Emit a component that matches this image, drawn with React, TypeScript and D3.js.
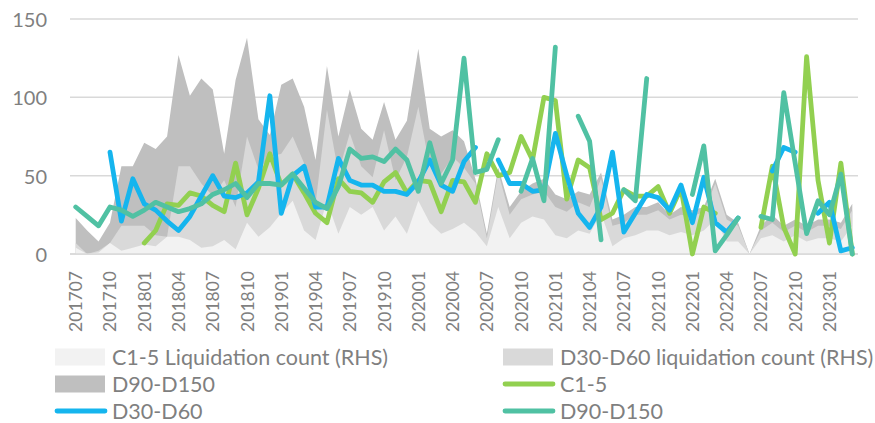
import React from "react";
import * as d3 from "d3";

const months: string[] = [
  "201707","201708","201709","201710","201711","201712",
  "201801","201802","201803","201804","201805","201806","201807","201808","201809","201810","201811","201812",
  "201901","201902","201903","201904","201905","201906","201907","201908","201909","201910","201911","201912",
  "202001","202002","202003","202004","202005","202006","202007","202008","202009","202010","202011","202012",
  "202101","202102","202103","202104","202105","202106","202107","202108","202109","202110","202111","202112",
  "202201","202202","202203","202204","202205","202206","202207","202208","202209","202210","202211","202212",
  "202301","202302","202303",
];

const tickLabels: string[] = [
  "201707","201710","201801","201804","201807","201810","201901","201904","201907","201910",
  "202001","202004","202007","202010","202101","202104","202107","202110","202201","202204",
  "202207","202210","202301",
];

const yTicks: number[] = [0, 50, 100, 150];

// Area series (liquidation counts), read on the visible scale
const areaC15: number[] = [
  4,0,1,7,2,4, 6,5,11,11,9,4,5,9,3,20,11,17,
  26,34,15,9,34,13,30,25,30,15,24,13,
  34,20,13,16,20,14,5,30,10,20,24,22,
  12,10,15,13,26,5,10,12,15,15,12,14,
  12,15,22,8,8,0,10,12,8,12,8,10,
  10,8,18,
];
const areaD3060: number[] = [
  7,0,2,7,18,18, 18,12,11,56,56,45,37,47,30,75,54,62,
  64,75,58,32,92,52,77,56,49,79,47,62,
  94,56,51,62,55,45,10,52,25,35,38,40,
  30,27,33,30,48,18,20,25,25,28,22,25,
  24,27,45,22,18,0,15,20,14,18,14,18,
  18,16,28,
];
const areaD90150: number[] = [
  23,15,8,20,56,56, 71,67,75,127,101,112,105,64,111,138,86,76,
  108,112,94,60,120,75,105,80,73,97,73,85,
  131,80,75,79,72,48,13,55,30,40,45,48,
  38,35,40,38,52,22,25,30,30,33,25,30,
  28,30,48,25,20,0,18,25,18,22,18,22,
  22,20,32,
];

// Line series
const lineC15: (number | null)[] = [
  null,null,null,null,null,null, 7,15,32,31,39,37,31,27,58,25,42,64,
  44,51,39,26,20,48,40,39,33,46,52,39,
  47,46,27,47,46,33,64,50,52,75,60,100,
  98,35,60,55,22,26,41,37,37,43,26,42,
  0,30,26,null,null,null,17,56,17,0,126,47,
  7,58,0,
];
const lineD3060: (number | null)[] = [
  null,null,null,65,21,48, 32,28,21,15,24,37,50,37,36,39,46,101,
  26,50,56,30,30,61,47,44,44,40,40,38,
  46,60,44,40,59,68,null,60,45,45,40,41,
  77,50,26,17,30,65,14,26,38,36,28,44,
  20,49,20,14,23,null,null,53,68,65,null,26,
  33,2,4,
];
const lineD90150: (number | null)[] = [
  30,24,18,30,28,24, 28,33,30,27,29,32,38,41,45,36,45,45,
  44,51,42,33,29,43,67,61,62,59,67,60,
  40,71,45,60,125,52,54,73,null,40,61,34,
  132,null,88,72,9,null,41,34,112,null,null,null,
  38,69,2,12,23,null,24,22,103,58,13,34,
  25,51,0,
];

const W = 875;
const H = 423;
const left = 70;
const right = 858;
const yTop = 19;
const yBottom = 254;

const font = "Lato, 'Open Sans', sans-serif";
const textColor = "#7f7f7f";

const colors = {
  areaC15: "#f2f2f2",
  areaD3060: "#d9d9d9",
  areaD90150: "#bfbfbf",
  lineC15: "#92d050",
  lineD3060: "#15b5ee",
  lineD90150: "#50c1a3",
};

export default function App() {
  const x = d3.scaleBand<string>().domain(months).range([left, right]).padding(0);
  const cx = (i: number) => (x(months[i]) as number) + x.bandwidth() / 2;
  const y = d3.scaleLinear().domain([0, 150]).range([yBottom, yTop]);

  const area = d3
    .area<number>()
    .x((_, i) => cx(i))
    .y0(y(0))
    .y1((d) => y(d));

  const line = d3
    .line<number | null>()
    .defined((d) => d !== null)
    .x((_, i) => cx(i))
    .y((d) => y(d as number));

  const legendRows = [
    { label: "C1-5 Liquidation count (RHS)", kind: "area", color: colors.areaC15, col: 0, row: 0 },
    { label: "D30-D60 liquidation count (RHS)", kind: "area", color: colors.areaD3060, col: 1, row: 0 },
    { label: "D90-D150", kind: "area", color: colors.areaD90150, col: 0, row: 1 },
    { label: "C1-5", kind: "line", color: colors.lineC15, col: 1, row: 1 },
    { label: "D30-D60", kind: "line", color: colors.lineD3060, col: 0, row: 2 },
    { label: "D90-D150", kind: "line", color: colors.lineD90150, col: 1, row: 2 },
  ];
  const colX = [55, 503];
  const rowY = [357, 384, 411];

  return (
    <svg
      width={W}
      height={H}
      style={{ position: "absolute", left: 0, top: 0, background: "#ffffff" }}
      fontFamily={font}
    >
      <rect x={0} y={0} width={W} height={H} fill="#ffffff" />
      {yTicks.map((t) => (
        <g key={t}>
          <line x1={left} x2={right} y1={y(t)} y2={y(t)} stroke="#d9d9d9" strokeWidth={1.5} />
          <text
            x={47}
            y={y(t)}
            textAnchor="end"
            dominantBaseline="central"
            fontSize={20}
            fill={textColor}
          >
            {t}
          </text>
        </g>
      ))}

      <path d={area(areaD90150) || ""} fill={colors.areaD90150} />
      <path d={area(areaD3060) || ""} fill={colors.areaD3060} />
      <path d={area(areaC15) || ""} fill={colors.areaC15} />

      <line x1={left} x2={right} y1={y(0)} y2={y(0)} stroke="#d9d9d9" strokeWidth={1.5} />

      {[
        { data: lineC15, color: colors.lineC15 },
        { data: lineD3060, color: colors.lineD3060 },
        { data: lineD90150, color: colors.lineD90150 },
      ].map((s, k) => (
        <path
          key={k}
          d={line(s.data) || ""}
          fill="none"
          stroke={s.color}
          strokeWidth={4.8}
          strokeLinejoin="round"
          strokeLinecap="round"
        />
      ))}

      {tickLabels.map((lab) => {
        const i = months.indexOf(lab);
        const px = cx(i);
        return (
          <text
            key={lab}
            transform={`translate(${px},${271}) rotate(-90)`}
            textAnchor="end"
            dominantBaseline="central"
            fontSize={17.5}
            fill={textColor}
          >
            {lab}
          </text>
        );
      })}

      {legendRows.map((r) => {
        const lx = colX[r.col];
        const ly = rowY[r.row];
        return (
          <g key={r.label + r.kind}>
            {r.kind === "area" ? (
              <rect x={lx} y={ly - 8.5} width={50} height={17} fill={r.color} />
            ) : (
              <line
                x1={lx + 2}
                x2={lx + 50}
                y1={ly}
                y2={ly}
                stroke={r.color}
                strokeWidth={4.8}
                strokeLinecap="round"
              />
            )}
            <text
              x={lx + 57}
              y={ly}
              dominantBaseline="central"
              fontSize={21.5}
              fill={textColor}
            >
              {r.label}
            </text>
          </g>
        );
      })}
    </svg>
  );
}
